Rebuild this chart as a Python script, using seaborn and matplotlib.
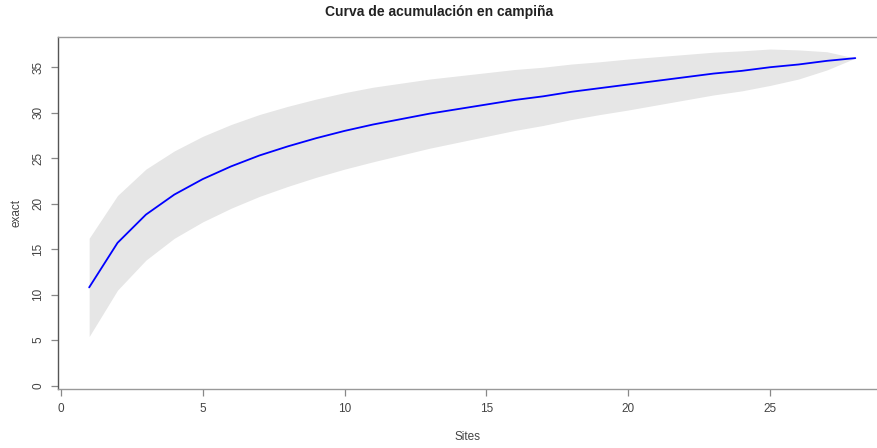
import matplotlib
matplotlib.use("Agg")
import matplotlib.pyplot as plt
import seaborn as sns
import pandas as pd
import numpy as np

sites = list(range(1, 29))
exact = [10.8, 15.7, 18.8, 21.0, 22.7, 24.1, 25.3, 26.3, 27.2, 28.0,
         28.7, 29.3, 29.9, 30.4, 30.9, 31.4, 31.8, 32.3, 32.7, 33.1,
         33.5, 33.9, 34.3, 34.6, 35.0, 35.3, 35.7, 36.0]
sd = [5.4, 5.2, 5.0, 4.8, 4.7, 4.6, 4.5, 4.4, 4.3, 4.2,
      4.1, 3.95, 3.8, 3.65, 3.5, 3.35, 3.2, 3.05, 2.9, 2.8,
      2.65, 2.5, 2.35, 2.2, 2.0, 1.6, 1.0, 0.0]
xticks = [0, 5, 10, 15, 20, 25]
yticks = [0, 5, 10, 15, 20, 25, 30, 35]
title = "Curva de acumulación en campiña"

sns.set_theme(style="white")
plt.rcParams['font.family'] = ['Liberation Sans', 'DejaVu Sans']

df = pd.DataFrame({"Sites": sites, "exact": exact, "sd": sd})
df["lo"] = df["exact"] - df["sd"]
df["hi"] = df["exact"] + df["sd"]

fig = plt.figure(figsize=(8.78, 4.48), dpi=100)
ax = fig.add_axes([0.066, 0.132, 0.934, 0.785])

ax.fill_between(df["Sites"], df["lo"], df["hi"], color="#e6e6e6", linewidth=0)
sns.lineplot(data=df, x="Sites", y="exact", color="#0000ff", linewidth=1.3, ax=ax)

ax.set_xlim(-0.1, 28.8)
ax.set_ylim(-0.35, 38.3)
ax.set_xticks(xticks)
ax.set_yticks(yticks)
ax.tick_params(axis='both', which='major', bottom=True, left=True,
               direction='out', length=5, width=0.9, color='#888888',
               labelcolor='#444444', labelsize=8.5, pad=5)
for lab in ax.get_yticklabels():
    lab.set_rotation(90)
    lab.set_va('center')
for s in ax.spines.values():
    s.set_color('#999999')
    s.set_linewidth(1.0)
ax.spines['left'].set_color('#555555')

ax.set_xlabel("Sites", fontsize=8.5, color='#444444', labelpad=12)
ax.set_ylabel("exact", fontsize=8.5, color='#444444', labelpad=7)
fig.text(0.5, 1 - 12 / 448, title, ha='center', va='center', fontsize=10,
         fontweight='bold', color='#222222')

fig.savefig("out.png", dpi=100)
